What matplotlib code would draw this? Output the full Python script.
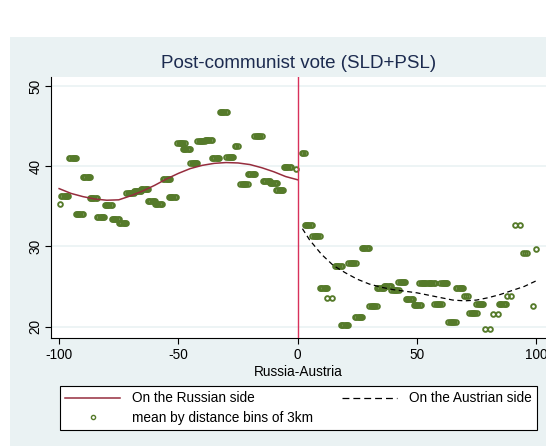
import matplotlib
matplotlib.use("Agg")
import matplotlib.pyplot as plt
from matplotlib.patches import Rectangle
from matplotlib.lines import Line2D
import numpy as np

plt.rcParams['font.family'] = ['Liberation Sans', 'DejaVu Sans']
plt.rcParams['axes.unicode_minus'] = False

# bin means (center of the bin cluster, mean vote, number of observations drawn)
rus_x = [-99.5, -97.6, -94.3, -91.6, -88.5, -85.7, -82.5, -79.4, -76.5, -73.4,
         -70.3, -67.3, -64.2, -61.2, -58.4, -54.9, -52.6, -48.9, -46.6, -43.5,
         -40.5, -37.5, -34.4, -31.2, -28.4, -25.7, -22.5, -19.3, -16.6, -13.0,
         -10.2, -7.5, -4.4, -0.7]
rus_y = [35.27, 36.3, 41.0, 34.0, 38.7, 36.05, 33.7, 35.2, 33.4, 32.9,
         36.7, 36.85, 37.1, 35.6, 35.3, 38.45, 36.1, 42.85, 42.2, 40.45,
         43.1, 43.3, 41.0, 46.8, 41.15, 42.5, 37.8, 39.0, 43.8, 38.1,
         37.95, 37.0, 39.9, 39.7]
rus_n = [1, 5, 5, 5, 5, 5, 5, 5, 5, 5,
         5, 5, 5, 5, 5, 5, 5, 5, 5, 5,
         5, 5, 5, 5, 5, 3, 5, 5, 5, 5,
         5, 5, 5, 1]

aut_x = [2.35, 4.45, 7.7, 10.9, 13.5, 17.0, 19.7, 22.8, 25.6, 28.4,
         31.6, 34.8, 37.6, 40.8, 43.7, 46.8, 50.1, 52.5, 56.0, 58.8,
         61.3, 64.7, 68.0, 70.6, 73.5, 76.4, 79.7, 83.0, 85.8, 88.6,
         92.2, 95.3, 98.8, 99.9]
aut_y = [41.7, 32.7, 31.25, 24.85, 23.5, 27.6, 20.15, 27.9, 21.2, 29.75,
         22.5, 24.8, 25.1, 24.6, 25.5, 23.4, 22.7, 25.4, 25.4, 22.8,
         25.4, 20.6, 24.85, 23.75, 21.7, 22.8, 19.7, 21.6, 22.85, 23.85,
         32.6, 29.2, 22.55, 29.65]
aut_n = [3, 5, 5, 5, 2, 5, 5, 5, 5, 5,
         5, 5, 5, 5, 5, 5, 5, 5, 5, 5,
         5, 5, 5, 3, 5, 5, 2, 2, 5, 2,
         2, 3, 1, 1]

# distance offsets of observations inside a bin
bin_offsets = {1: [0.0], 2: [-1.0, 1.0], 3: [-0.7, 0.0, 0.7],
               5: [-1.5, -1.0, -0.5, 0.0, 0.5, 1.0, 1.5]}

# fitted polynomials
fit_rus_x = [-100, -95, -90, -85, -80, -75, -70, -65, -60, -55, -50,
             -45, -40, -35, -30, -25, -20, -15, -10, -5, 0]
fit_rus_y = [37.2, 36.6, 36.2, 35.9, 35.75, 35.8, 36.3, 36.9, 37.6, 38.4, 39.1,
             39.7, 40.1, 40.35, 40.45, 40.4, 40.2, 39.8, 39.3, 38.7, 38.3]
fit_aut_x = [2, 5, 10, 15, 20, 25, 30, 35, 40, 45, 50,
             55, 60, 65, 70, 75, 80, 85, 90, 95, 100]
fit_aut_y = [32.2, 30.8, 29.0, 27.6, 26.7, 25.9, 25.3, 24.9, 24.6, 24.4, 24.2,
             23.9, 23.6, 23.3, 23.2, 23.3, 23.6, 24.0, 24.5, 25.0, 25.7]

bg = '#eaf2f3'
green = '#557a2a'
maroon = '#962d3e'
vline_col = '#d8315b'

W, H = 546, 446
fig = plt.figure(figsize=(W / 100, H / 100), dpi=100, facecolor='white')
fig.patches.append(Rectangle((10 / W, 0), 1 - 10 / W, 1 - 37 / H,
                             transform=fig.transFigure, facecolor=bg,
                             edgecolor='none', zorder=-10))

ax = fig.add_axes([51 / W, (H - 337.5) / H, 1 - 51 / W, (337.5 - 77) / H])
ax.set_zorder(2)
ax.set_facecolor('white')
ax.set_xlim(-103.4, 104.1)
ax.set_ylim(18.63, 51.12)

for y in [20, 30, 40, 50]:
    ax.axhline(y, color=bg, lw=1.2, zorder=1)

def expand(xs, ys, ns):
    px, py = [], []
    for x, y, n in zip(xs, ys, ns):
        for o in bin_offsets[n]:
            px.append(x + o)
            py.append(y)
    return px, py

for xs, ys, ns in [(rus_x, rus_y, rus_n), (aut_x, aut_y, aut_n)]:
    px, py = expand(xs, ys, ns)
    ax.plot(px, py, 'o', ms=3.4, mfc='none', mec=green, mew=1.35, zorder=3)

ax.plot(fit_rus_x, fit_rus_y, color=maroon, lw=1.1, zorder=4)
ax.plot(fit_aut_x, fit_aut_y, color='black', lw=0.9, dashes=(4, 2.8), zorder=4)
ax.axvline(0, color=vline_col, lw=1.0, zorder=5)

for s in ['top', 'right']:
    ax.spines[s].set_visible(False)
for s in ['left', 'bottom']:
    ax.spines[s].set_color('black')
    ax.spines[s].set_linewidth(0.8)

ax.set_xticks([-100, -50, 0, 50, 100])
ax.set_yticks([20, 30, 40, 50])
ax.tick_params(axis='both', direction='out', length=4, width=0.8,
               labelsize=9.8, colors='black')
ax.tick_params(axis='y', labelrotation=90, pad=2)
for lab in ax.get_yticklabels():
    lab.set_va('center')
ax.set_xlabel('Russia-Austria', fontsize=9.8, labelpad=2.5)

fig.text(298.5 / W, 1 - 64 / H, 'Post-communist vote (SLD+PSL)',
         ha='center', va='center', fontsize=13.5, color='#1c2b4f')

handles = [Line2D([], [], color=maroon, lw=1.1),
           Line2D([], [], ls='none', marker='o', ms=3.0, mfc='none',
                  mec=green, mew=1.0),
           Line2D([], [], color='black', lw=0.9, dashes=(5.5, 3.2))]
labels = ['On the Russian side', 'mean by distance bins of 3km',
          'On the Austrian side']
leg = fig.legend(handles, labels, loc='center', ncol=2, mode='expand',
                 bbox_to_anchor=(60 / W, 14 / H, 477 / W, 48 / H),
                 borderaxespad=0, fontsize=9.8, frameon=True, fancybox=False,
                 edgecolor='black', framealpha=1, handlelength=4.0,
                 handletextpad=0.9, labelspacing=0.4, borderpad=0.4)
leg.get_frame().set_linewidth(0.8)

fig.savefig('out.png', dpi=100, facecolor='white')
